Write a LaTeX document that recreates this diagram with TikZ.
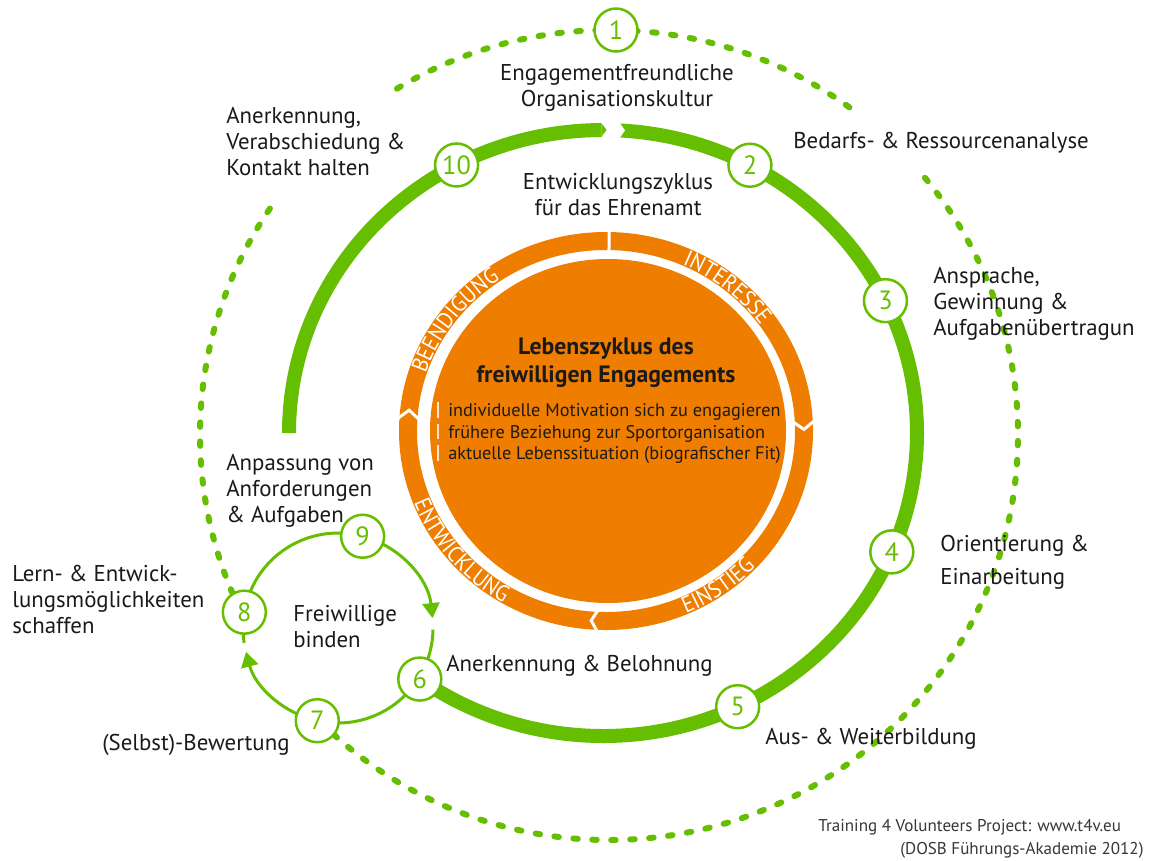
\documentclass[tikz,border=0pt]{standalone}
\usepackage{fontspec}
\setmainfont{PT Sans}
\newfontfamily\ringff[FakeStretch=0.92]{PT Sans}
\usetikzlibrary{calc,arrows.meta,decorations.text}
\definecolor{grn}{RGB}{102,190,0}
\definecolor{org}{RGB}{238,125,0}
\definecolor{txt}{RGB}{26,26,26}
\definecolor{barc}{RGB}{255,228,200}
\definecolor{credc}{RGB}{55,55,55}
\newcommand\ringfont{\ringff\fontsize{13}{15}\selectfont}
\newcommand\barmark{{\color{barc}\rule[-0.1ex]{1.2pt}{1.7ex}}\hspace{5pt}}
\begin{document}
\begin{tikzpicture}[x=0.02cm,y=0.02cm,
  num/.style={circle,draw=grn,line width=0.05cm,fill=white,minimum size=0.86cm,inner sep=0pt,text=grn,font=\fontsize{15}{18}\selectfont},
  lbl/.style={inner sep=0pt,text=txt,font=\fontsize{13}{14.8}\selectfont,align=left,anchor=north west},
  greenring/.style={draw=grn,line width=0.28cm},
  dotring/.style={draw=grn,line width=0.12cm,line cap=round,dash pattern=on 0.09cm off 0.29cm},
  smallring/.style={draw=grn,line width=0.06cm},
  arrowed/.style={-{Triangle[width=0.34cm,length=0.3cm]}},
  chev/.style={draw=white,line width=0.06cm},
  ringtext/.style={decorate,decoration={text along path,text align=center,text color=white,text={|\ringfont|#1}}},
]
\useasboundingbox[fill=white] (0,0) rectangle (1159,-860);
% centres
\coordinate (G) at (603,-433);
\coordinate (D) at (609,-435);
\coordinate (S) at (338,-628);
\coordinate (O) at (606,-431);
\coordinate (Dk) at (608,-431);
% node points
\coordinate (c1) at (616,-30);
\coordinate (c2) at ($(G)+(62.1:314 and 303)$);
\coordinate (c3) at ($(G)+(25.9:314 and 303)$);
\coordinate (c4) at ($(G)+(-23.1:314 and 303)$);
\coordinate (c5) at ($(G)+(-64.6:314 and 303)$);
\coordinate (c6) at ($(G)+(-125.7:314 and 303)$);
\coordinate (c10) at ($(G)+(117.8:314 and 303)$);
\coordinate (c9) at ($(S)+(75:95)$);
\coordinate (c8) at ($(S)+(170.4:95)$);
\coordinate (c7) at ($(S)+(257.4:95)$);

% dotted outer ring
\draw[dotring] ($(D)+(225:409 and 405)$) arc[start angle=225,end angle=400,x radius=409,y radius=405];
\draw[dotring] ($(D)+(54:409 and 405)$) arc[start angle=54,end angle=122,x radius=409,y radius=405];
\draw[dotring] ($(D)+(146:409 and 405)$) arc[start angle=146,end angle=206,x radius=409,y radius=405];

% green development cycle
\draw[greenring] ($(G)+(180:314 and 303)$) arc[start angle=180,end angle=90.3,x radius=314,y radius=303];
\fill[grn] (601.3,-123) -- (606.5,-130) -- (601.3,-137) -- cycle;
\draw[greenring] ($(G)+(86.9:314 and 303)$) arc[start angle=86.9,end angle=-125.7,x radius=314,y radius=303];
\fill[white] (619.4,-122.5) -- (625,-130.4) -- (619.4,-138.5) -- cycle;

% small cycle
\draw[smallring,arrowed] (c9) arc[start angle=75,end angle=6,radius=95];
\draw[smallring] ($(S)+(-1:95)$) arc[start angle=-1,end angle=-102.6,radius=95];
\draw[smallring,arrowed] (c7) arc[start angle=257.4,end angle=194.5,radius=95];
\draw[smallring] ($(S)+(189:95)$) arc[start angle=189,end angle=75,radius=95];

% orange life cycle
\fill[org] (Dk) ellipse[x radius=178,y radius=172];
\draw[org,line width=0.36cm] (O) ellipse[x radius=198,y radius=190];
\draw[chev] ($(O)+(89.1:210 and 202)$) -- ($(O)+(89.1:186 and 178)$);
\draw[chev] ($(O)+(3.2:210 and 202)$) -- ($(O)+(0.5:198 and 190)$) -- ($(O)+(3.2:186 and 178)$);
\draw[chev] ($(O)+(-92.2:210 and 202)$) -- ($(O)+(-94.3:198 and 190)$) -- ($(O)+(-92.2:186 and 178)$);
\draw[chev] ($(O)+(176.7:210 and 202)$) -- ($(O)+(173.7:198 and 190)$) -- ($(O)+(176.7:186 and 178)$);
\path[ringtext=INTERESSE] ($(O)+(88:190 and 182)$) arc[start angle=88,end angle=13,x radius=190,y radius=182];
\path[ringtext=BEENDIGUNG] ($(O)+(178:190 and 182)$) arc[start angle=178,end angle=108,x radius=190,y radius=182];
\path[ringtext=EINSTIEG] ($(O)+(-90:206 and 198)$) arc[start angle=-90,end angle=-20,x radius=206,y radius=198];
\path[ringtext=ENTWICKLUNG] ($(O)+(185:206 and 198)$) arc[start angle=185,end angle=256,x radius=206,y radius=198];

\node[anchor=north,align=center,inner sep=0pt,text=txt,font=\bfseries\fontsize{13.5}{15.4}\selectfont] (title) at (606,-338) {Lebenszyklus des\\freiwilligen Engagements};
\node[anchor=north west,align=left,inner sep=0pt,text=txt,font=\fontsize{10.4}{12.2}\selectfont] (motiv) at (437,-402) {\barmark individuelle Motivation sich zu engagieren\\\barmark frühere Beziehung zur Sportorganisation\\\barmark aktuelle Lebenssituation (biografischer Fit)};

% number nodes
\node[num] (n1) at (c1) {1};
\node[num] (n2) at (c2) {2};
\node[num] (n3) at (c3) {3};
\node[num] (n4) at (c4) {4};
\node[num] (n5) at (c5) {5};
\node[num] (n6) at (c6) {6};
\node[num] (n7) at (c7) {7};
\node[num] (n8) at (c8) {8};
\node[num] (n9) at (c9) {9};
\node[num] (n10) at (c10) {10};

% labels
\node[lbl,anchor=north,align=center] (l1) at (617,-63.5) {Engagementfreundliche\\Organisationskultur};
\node[lbl] (l2) at (793,-131.5) {Bedarfs- \& Ressourcenanalyse};
\node[lbl] (l3) at (933,-266.5) {Ansprache,\\Gewinnung \&\\Aufgabenübertragun};
\node[lbl,font=\fontsize{13}{19}\selectfont] (l4) at (940,-534.5) {Orientierung \&\\Einarbeitung};
\node[lbl] (l5) at (765,-727.5) {Aus- \& Weiterbildung};
\node[lbl] (l6) at (446,-654.5) {Anerkennung \& Belohnung};
\node[lbl] (l7) at (102,-733.5) {(Selbst)-Bewertung};
\node[lbl] (l8) at (12,-564.5) {Lern- \& Entwick-\\lungsmöglichkeiten\\schaffen};
\node[lbl] (l9) at (226,-453.5) {Anpassung von\\Anforderungen\\\& Aufgaben};
\node[lbl] (l10) at (226,-106.5) {Anerkennung,\\Verabschiedung \&\\Kontakt halten};
\node[lbl] (bind) at (293,-604.5) {Freiwillige\\binden};
\node[lbl,anchor=north,align=center] (cyc) at (618,-172.5) {Entwicklungszyklus\\für das Ehrenamt};

\node[anchor=base west,inner sep=0pt,text=credc,font=\fontsize{9.7}{12}\selectfont] (cr1) at (818,-831) {Training 4 Volunteers Project: www.t4v.eu};
\node[anchor=base west,inner sep=0pt,text=credc,font=\fontsize{9.7}{12}\selectfont] (cr2) at (900,-854) {(DOSB Führungs-Akademie 2012)};
\end{tikzpicture}
\end{document}
